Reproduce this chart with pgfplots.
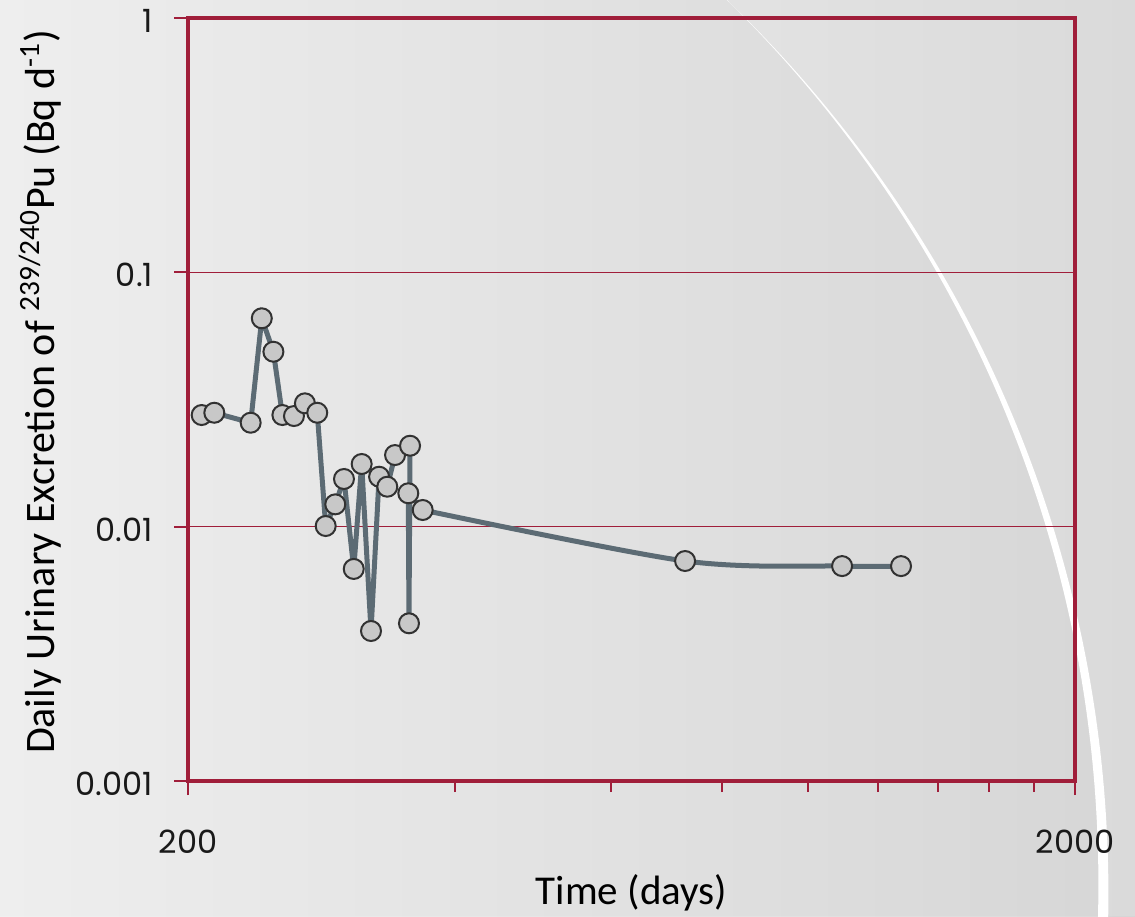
\documentclass[border=0pt]{standalone}
\usepackage{pgfplots}
\pgfplotsset{compat=1.18}
\usepackage{fontspec}
\setmainfont{Carlito}
\newfontfamily\tickfont{Poppins}
\definecolor{frameC}{RGB}{160,30,58}
\definecolor{lineC}{RGB}{92,107,116}
\definecolor{markF}{RGB}{200,200,200}
\definecolor{markD}{RGB}{50,50,50}
\definecolor{bgL}{RGB}{238,238,238}
\definecolor{bgR}{RGB}{214,214,214}
\begin{document}
\begin{tikzpicture}
\fill[left color=bgL, right color=bgR] (-94pt,-67.5pt) rectangle (473.5pt,390.5pt);
\begin{scope}
\clip (-94pt,-67.5pt) rectangle (473.5pt,390.5pt);
% slightly lighter region right of the arc
\fill[white, opacity=0.12, even odd rule] (-94pt,-67.5pt) rectangle (473.5pt,390.5pt) (-159.15pt,-56.6pt) circle[radius=619.35pt];
% white crescent arc
\fill[white, even odd rule] (-164.15pt,-51.7pt) circle[radius=619.35pt] (-159.15pt,-56.6pt) circle[radius=619.35pt];
\end{scope}
\begin{axis}[
  at={(0,0)}, anchor=south west, scale only axis,
  width=443.5pt, height=381.5pt,
  xmode=log, ymode=log,
  xmin=200, xmax=2000, ymin=0.001, ymax=1,
  axis line style={draw=frameC, line width=2pt},
  xtick={200,2000}, xticklabels={200,2000},
  minor xtick={400,600,800,1000,1200,1400,1600,1800},
  ytick={0.001,0.01,0.1,1}, yticklabels={0.001,0.01,0.1,1},
  yminorticks=false,
  tick align=outside, major tick length=7pt, minor tick length=5.5pt,
  tick style={draw=frameC, line width=1pt},
  xtick pos=bottom, ytick pos=left,
  ymajorgrids, grid style={draw=frameC, line width=0.75pt},
  tick label style={font=\tickfont\fontsize{16}{18}\selectfont, text=black!90},
  xticklabel style={yshift=-14pt},
  yticklabel style={xshift=-7pt, yshift=-1.5pt},
  label style={font=\fontsize{21}{24}\selectfont},
  xlabel={Time (days)},
  ylabel={Daily Urinary Excretion of \textsuperscript{239/240}Pu (Bq d\textsuperscript{-1})},
  xlabel style={at={(axis description cs:0.5,-0.146)}, anchor=center, font=\fontsize{20.5}{24}\selectfont},
  ylabel style={at={(axis description cs:-0.167,0.51)}, anchor=center},
]
\addplot[lineC, line width=2.5pt, mark=none] coordinates {
(207.2,0.02748)(214.1,0.02805)(235.3,0.02563)(242.2,0.06597)(249.6,0.04873)(255.5,0.02748)(263.3,0.02723)(270.9,0.03055)(279.7,0.02805)(285.9,0.01006)(293.1,0.01224)(299.8,0.01540)(307.5,0.00682)(313.9,0.01764)(321.6,0.00389)(328.4,0.01572)(335.5,0.01436)(342.3,0.01913)(355.9,0.02081)(354.9,0.00417)(354.3,0.01353)(367.8,0.01163)
};
\addplot[lineC, line width=2.5pt, mark=none, smooth, tension=0.5] coordinates {
(367.8,0.01163)(726.8,0.00733)(1092.4,0.00700)(1273,0.00700)
};
\addplot[only marks, mark=*, mark size=5pt, mark options={fill=markF, draw=markD, line width=1pt}] coordinates {
(207.2,0.02748)(214.1,0.02805)(235.3,0.02563)(242.2,0.06597)(249.6,0.04873)(255.5,0.02748)(263.3,0.02723)(270.9,0.03055)(279.7,0.02805)(285.9,0.01006)(293.1,0.01224)(299.8,0.01540)(307.5,0.00682)(313.9,0.01764)(321.6,0.00389)(328.4,0.01572)(335.5,0.01436)(342.3,0.01913)(355.9,0.02081)(354.9,0.00417)(354.3,0.01353)(367.8,0.01163)(726.8,0.00733)(1092.4,0.00700)(1273,0.00700)
};
\end{axis}
\pgfresetboundingbox
\path[use as bounding box] (-94pt,-67.5pt) rectangle (473.5pt,390.5pt);
\end{tikzpicture}
\end{document}
